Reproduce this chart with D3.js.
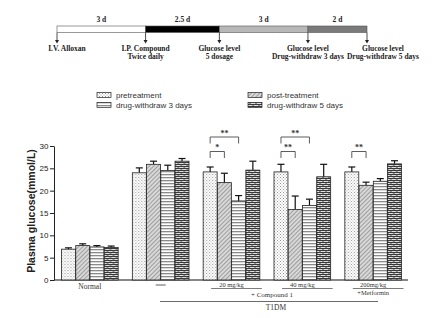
<!DOCTYPE html>
<html>
    <head>
        <meta charset="UTF-8">
        <script src="https://d3js.org/d3.v7.min.js"></script>
        <style>
            body { margin: 0; background: white; }
            svg { display: block; }
            .serif { font-family: "Liberation Serif", "Times New Roman", serif; }
            .tl-label { font-size: 7.5px; font-weight: bold; fill: #222; }
            .axis text { font-family: Arial, "Liberation Sans", sans-serif; font-size: 8px; fill: #222; }
            .axis path, .axis line { stroke: #222; }
            .legend text { font-family: Arial, "Liberation Sans", sans-serif; font-size: 8px; fill: #333; }
            .bar { stroke: #222; stroke-width: 0.8px; }
            .err { stroke: #111; stroke-width: 1.2px; fill: none; }
            .sig { stroke: #333; stroke-width: 0.8px; fill: none; }
        </style>
    </head>
    <body>
        <svg width="446" height="318"></svg>
        <script>
            // timeline
            const stages = ["3 d", "2.5 d", "3 d", "2 d"];
            const stageDays = [3, 2.5, 3, 2];
            const stageFill = ["#ffffff", "#000000", "#b8b8b8", "#7a7a7a"];
            const events = [
                ["I.V. Alloxan"],
                ["I.P. Compound", "Twice daily"],
                ["Glucose level", "5 dosage"],
                ["Glucose level", "Drug-withdraw 3 days"],
                ["Glucose level", "Drug-withdraw 5 days"]
            ];

            // bar chart
            const groups = ["Normal", "T1DM", "20mg", "40mg", "Metformin"];
            const series = ["pretreatment", "post-treatment", "drug-withdraw 3 days", "drug-withdraw 5 days"];
            const means = [
                [6.9, 7.7, 7.4, 7.3],
                [24.0, 25.9, 24.5, 26.6],
                [24.2, 21.8, 17.7, 24.6],
                [24.2, 15.8, 16.7, 23.1],
                [24.2, 21.2, 22.1, 26.0]
            ];
            const errs = [
                [0.3, 0.4, 0.3, 0.3],
                [1.1, 0.7, 1.2, 0.6],
                [1.1, 2.1, 1.2, 2.0],
                [1.7, 3.0, 1.4, 2.8],
                [1.1, 0.7, 0.6, 0.7]
            ];
            const yTicks = [0, 5, 10, 15, 20, 25, 30];
            // significance: [group, from series, to series, label, level]
            const sigs = [
                [2, 0, 1, "*", 0],
                [2, 0, 2, "**", 1],
                [3, 0, 1, "**", 0],
                [3, 0, 2, "**", 1],
                [4, 0, 1, "**", 0]
            ];

            const svg = d3.select("svg");
            const defs = svg.append("defs");

            // patterns
            const pDots = defs.append("pattern").attr("id", "p0")
                .attr("width", 3).attr("height", 3).attr("patternUnits", "userSpaceOnUse");
            pDots.append("rect").attr("width", 3).attr("height", 3).attr("fill", "#fff");
            pDots.append("rect").attr("x", 0).attr("y", 0).attr("width", 1).attr("height", 1).attr("fill", "#999");
            pDots.append("rect").attr("x", 1.5).attr("y", 1.5).attr("width", 1).attr("height", 1).attr("fill", "#aaa");

            const pDiag = defs.append("pattern").attr("id", "p1")
                .attr("width", 3).attr("height", 3).attr("patternUnits", "userSpaceOnUse")
                .attr("patternTransform", "rotate(45)");
            pDiag.append("rect").attr("width", 3).attr("height", 3).attr("fill", "#d8d8d8");
            pDiag.append("line").attr("x1", 0).attr("y1", 0).attr("x2", 0).attr("y2", 3)
                .attr("stroke", "#777").attr("stroke-width", 1.2);

            const pHor = defs.append("pattern").attr("id", "p2")
                .attr("width", 4).attr("height", 3).attr("patternUnits", "userSpaceOnUse");
            pHor.append("rect").attr("width", 4).attr("height", 3).attr("fill", "#fff");
            pHor.append("rect").attr("y", 0).attr("width", 4).attr("height", 1.3).attr("fill", "#8a8a8a");

            const pBrick = defs.append("pattern").attr("id", "p3")
                .attr("width", 6).attr("height", 4).attr("patternUnits", "userSpaceOnUse");
            pBrick.append("rect").attr("width", 6).attr("height", 4).attr("fill", "#e0e0e0");
            pBrick.append("path").attr("d", "M0,0.5H6M0,2.5H6M1,0.5V2.5M4,2.5V4.5")
                .attr("stroke", "#3a3a3a").attr("stroke-width", 1);

            // ---------- timeline ----------
            const tl = svg.append("g").attr("class", "serif");
            const starts = [0];
            stageDays.forEach((d, i) => starts.push(starts[i] + d));
            const tx = d3.scaleLinear().domain([0, d3.sum(stageDays)]).range([57, 367]);
            const barTop = 26, barH = 6.5;

            tl.selectAll("rect.stage").data(stageDays).join("rect")
                .attr("x", (d, i) => tx(starts[i]))
                .attr("width", (d, i) => tx(starts[i + 1]) - tx(starts[i]))
                .attr("y", barTop).attr("height", barH)
                .attr("fill", (d, i) => stageFill[i])
                .attr("stroke", "#555").attr("stroke-width", 0.6);

            tl.selectAll("text.stage").data(stages).join("text")
                .attr("class", "tl-label")
                .attr("x", (d, i) => (tx(starts[i]) + tx(starts[i + 1])) / 2)
                .attr("y", 22).attr("text-anchor", "middle")
                .text(d => d);

            const ev = tl.selectAll("g.ev").data(events).join("g")
                .attr("transform", (d, i) => `translate(${tx(starts[i])},0)`);
            ev.append("line").attr("y1", barTop + barH).attr("y2", 41)
                .attr("stroke", "#222").attr("stroke-width", 0.8);
            ev.append("path").attr("d", "M-2,40L2,40L0,43.5Z").attr("fill", "#222");
            ev.each(function (d, i) {
                const g = d3.select(this);
                d.forEach((t, j) => {
                    g.append("text").attr("class", "tl-label")
                        .attr("x", i == 0 ? 10 : (i == 4 ? 16 : 0))
                        .attr("y", 51 + j * 8)
                        .attr("text-anchor", "middle")
                        .text(t);
                });
            });

            // ---------- chart ----------
            const y = d3.scaleLinear().domain([0, 30]).range([280, 146]);
            const x0 = d3.scaleBand().domain(groups).range([53, 410]).paddingInner(0.2).paddingOuter(0.12);
            const x1 = d3.scaleBand().domain(series).range([0, x0.bandwidth()]).paddingInner(0.02);

            svg.append("g").attr("class", "axis")
                .attr("transform", "translate(54,0)")
                .call(d3.axisLeft(y).tickValues(yTicks).tickSize(4).tickSizeOuter(0).tickPadding(1.5));

            svg.append("line").attr("x1", 54).attr("x2", 408).attr("y1", 280).attr("y2", 280)
                .attr("stroke", "#111").attr("stroke-width", 1.2);

            svg.append("text")
                .attr("transform", `translate(35,211) rotate(-90)`)
                .attr("text-anchor", "middle")
                .style("font-family", "Arial, 'Liberation Sans', sans-serif")
                .style("font-size", "10.5px").style("font-weight", "bold").attr("fill", "#222")
                .text("Plasma glucose(mmol/L)");

            const gg = svg.append("g").selectAll("g").data(groups).join("g")
                .attr("transform", d => `translate(${x0(d)},0)`);

            gg.each(function (g, gi) {
                const sel = d3.select(this);
                series.forEach((s, si) => {
                    const v = means[gi][si], e = errs[gi][si];
                    const cx = x1(s) + x1.bandwidth() / 2;
                    sel.append("line").attr("class", "err")
                        .attr("x1", cx).attr("x2", cx).attr("y1", y(v)).attr("y2", y(v + e));
                    sel.append("line").attr("class", "err")
                        .attr("x1", cx - 3.5).attr("x2", cx + 3.5).attr("y1", y(v + e)).attr("y2", y(v + e));
                    sel.append("rect").attr("class", "bar")
                        .attr("x", x1(s)).attr("width", x1.bandwidth())
                        .attr("y", y(v)).attr("height", y(0) - y(v))
                        .attr("fill", `url(#p${si})`);
                });
            });

            // significance brackets
            const sigTop = [151.5, 137];
            const sigG = svg.append("g");
            sigs.forEach(([gi, a, b, lab, lvl]) => {
                const xa = x0(groups[gi]) + x1(series[a]) + x1.bandwidth() / 2;
                const xb = x0(groups[gi]) + x1(series[b]) + x1.bandwidth() / 2;
                const yt = sigTop[lvl];
                sigG.append("path").attr("class", "sig")
                    .attr("d", `M${xa},${yt + 6.5}V${yt}H${xb}V${yt + 6.5}`);
                sigG.append("text").attr("class", "serif")
                    .attr("x", (xa + xb) / 2).attr("y", yt - 1.5)
                    .attr("text-anchor", "middle")
                    .style("font-size", "8px").style("font-weight", "bold").attr("fill", "#333")
                    .text(lab);
            });

            // x labels
            const xl = svg.append("g").attr("class", "serif").style("font-size", "6.5px").attr("fill", "#333");
            const gc = g => x0(g) + x0.bandwidth() / 2;
            xl.append("text").attr("x", gc("Normal")).attr("y", 289).attr("text-anchor", "middle")
                .style("font-size", "7.5px").text("Normal");
            xl.append("line").attr("x1", gc("T1DM") - 5).attr("x2", gc("T1DM") + 5)
                .attr("y1", 285).attr("y2", 285).attr("stroke", "#333").attr("stroke-width", 0.8);
            [["20mg", "20 mg/kg"], ["40mg", "40 mg/kg"], ["Metformin", "200mg/kg"]].forEach(([g, t]) => {
                xl.append("text").attr("x", gc(g)).attr("y", 286.5).attr("text-anchor", "middle").text(t);
                xl.append("line").attr("x1", x0(g) + 8).attr("x2", x0(g) + x0.bandwidth() + 2)
                    .attr("y1", 288.5).attr("y2", 288.5).attr("stroke", "#444").attr("stroke-width", 0.7);
            });
            xl.append("text").attr("x", gc("Metformin")).attr("y", 295).attr("text-anchor", "middle").text("+Metformin");
            xl.append("text").attr("x", 272).attr("y", 297).attr("text-anchor", "middle")
                .style("font-size", "7px").text("+ Compound 1");
            xl.append("line").attr("x1", 160).attr("x2", 378).attr("y1", 301.5).attr("y2", 301.5)
                .attr("stroke", "#444").attr("stroke-width", 0.8);
            xl.append("text").attr("x", 276).attr("y", 310).attr("text-anchor", "middle")
                .style("font-size", "7.5px").text("T1DM");

            // legend
            const lg = svg.append("g").attr("class", "legend");
            series.forEach((s, i) => {
                const lx = i % 2 == 0 ? 97 : 248, ly = i < 2 ? 92.5 : 102.5;
                lg.append("rect").attr("x", lx).attr("y", ly).attr("width", 14).attr("height", 5)
                    .attr("fill", `url(#p${i})`).attr("stroke", "#222").attr("stroke-width", 0.7);
                lg.append("text").attr("x", lx + 19).attr("y", ly + 5).text(s);
            });
        </script>
    </body>
</html>
